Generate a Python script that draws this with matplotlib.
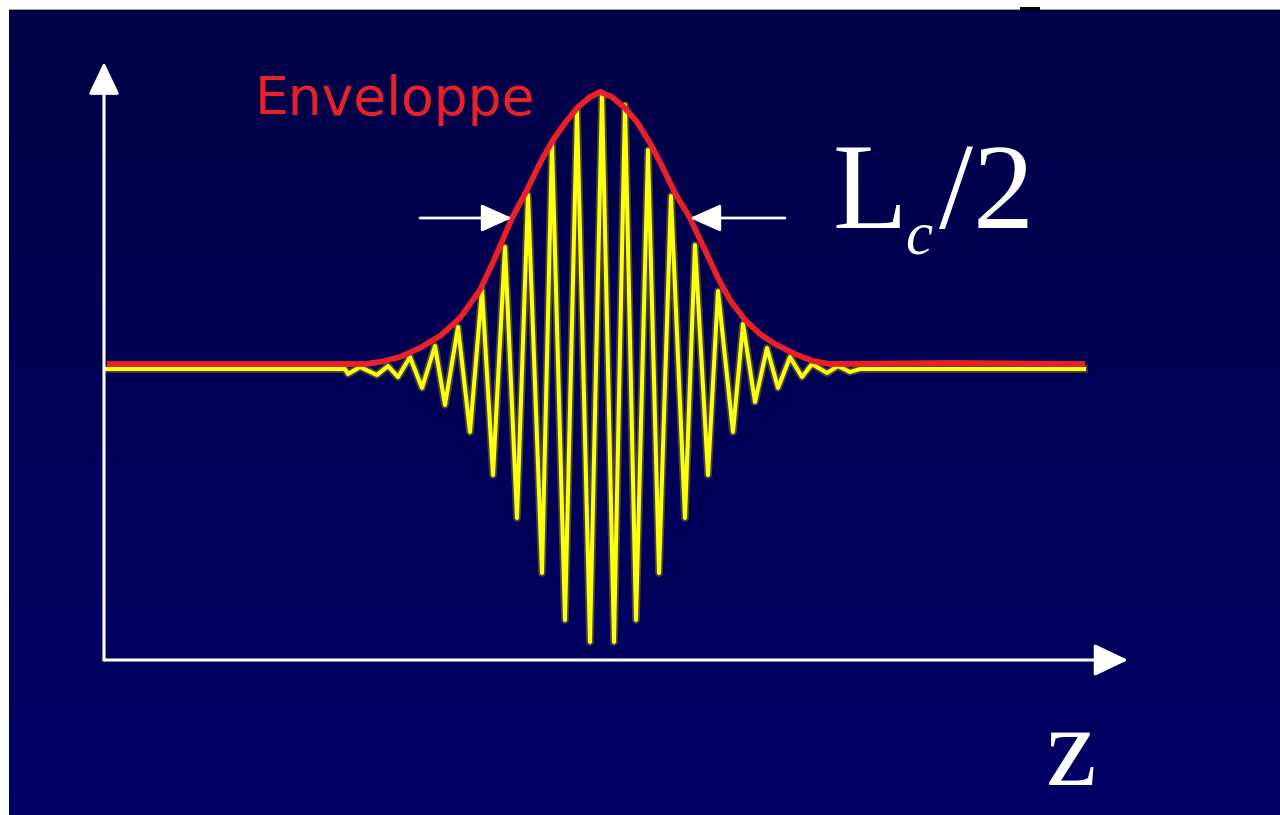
import numpy as np
import matplotlib
matplotlib.use('Agg')
import matplotlib.pyplot as plt
from matplotlib.patches import Rectangle

# Interference signal (yellow): z position and amplitude of each turning point
signal_z = [0.03, 2.41, 2.44, 2.56, 2.73, 2.84, 2.94, 3.06, 3.18, 3.31, 3.41, 3.54, 3.66, 3.78,
            3.89, 4.01, 4.13, 4.24, 4.38, 4.48, 4.61, 4.73, 4.86, 4.98, 5.10, 5.21, 5.32, 5.44,
            5.55, 5.67, 5.81, 5.91, 6.04, 6.14, 6.29, 6.39, 6.51, 6.63, 6.74, 6.86, 6.98, 7.08,
            7.23, 7.34, 7.46, 7.56, 9.80]
signal_amp = [0.00, 0.00, -0.05, 0.02, -0.06, 0.03, -0.08, 0.12, -0.19, 0.23, -0.36, 0.42, -0.63, 0.79,
              -1.06, 1.22, -1.49, 1.74, -2.04, 2.26, -2.51, 2.59, -2.73, 2.76, -2.73, 2.64, -2.51, 2.19,
              -2.04, 1.73, -1.49, 1.24, -1.06, 0.78, -0.63, 0.45, -0.33, 0.21, -0.19, 0.12, -0.08, 0.05,
              -0.04, 0.03, -0.03, 0.00, 0.00]

# Envelope (red)
env_z = [0.03, 2.61, 2.76, 2.96, 3.16, 3.36, 3.56, 3.76, 3.91, 4.08, 4.23, 4.36, 4.49, 4.61,
         4.74, 4.86, 4.96, 5.08, 5.21, 5.33, 5.46, 5.58, 5.71, 5.86, 6.01, 6.14, 6.26, 6.41,
         6.56, 6.71, 6.91, 7.09, 7.26, 8.46, 9.81]
env_amp = [0.05, 0.05, 0.07, 0.12, 0.21, 0.33, 0.51, 0.79, 1.11, 1.51, 1.79, 2.06, 2.29, 2.46,
           2.62, 2.72, 2.77, 2.72, 2.61, 2.47, 2.26, 2.03, 1.76, 1.51, 1.19, 0.91, 0.69, 0.49,
           0.35, 0.25, 0.15, 0.08, 0.05, 0.06, 0.05]

# half coherence length markers
lc_left = 4.08
lc_right = 5.86
lc_level = 1.51

W, H = 1280, 815
fig = plt.figure(figsize=(W / 100, H / 100), dpi=100)
fig.patch.set_facecolor('white')

# navy gradient background
bg = fig.add_axes([9 / W, 0, (W - 9) / W, (H - 9) / H])
grad = np.linspace(0, 1, 256).reshape(-1, 1)
top = np.array([0x00, 0x00, 0x46]) / 255
bot = np.array([0x00, 0x00, 0x66]) / 255
img = top + (bot - top) * grad[:, :, None]
bg.imshow(img, aspect='auto', extent=[0, 1, 0, 1], origin='upper')
bg.set_axis_off()
fig.add_artist(Rectangle((9 / W, (H - 10) / H), (W - 9) / W, 1.5 / H,
                         transform=fig.transFigure, color='#a0a0b0', lw=0))
fig.add_artist(Rectangle((1020 / W, (H - 10) / H), 20 / W, 3 / H,
                         transform=fig.transFigure, color='black', lw=0))

ax = fig.add_axes([0, 0, 1, 1])
ax.set_xlim(-1.04, 11.76)
ax.set_ylim(-4.46, 3.69)
ax.set_axis_off()
ax.patch.set_alpha(0)

# axes arrows
axis_y = -2.91
ax.annotate('', xy=(0, 3.07), xytext=(0, axis_y),
            arrowprops=dict(arrowstyle='-|>,head_length=2.0,head_width=0.95',
                            color='white', lw=2.2, shrinkA=0, shrinkB=0))
ax.annotate('', xy=(10.24, axis_y), xytext=(0, axis_y),
            arrowprops=dict(arrowstyle='-|>,head_length=2.1,head_width=1.0',
                            color='white', lw=2.2, shrinkA=0, shrinkB=0))

# signal with soft glow, then envelope
ax.plot(signal_z, signal_amp, color='#c8c800', lw=5.5, alpha=0.35, solid_joinstyle='round')
ax.plot(signal_z, signal_amp, color='#ffff10', lw=2.9, solid_joinstyle='round')
ax.plot(env_z, env_amp, color='#e8202a', lw=4.2, solid_capstyle='butt',
        solid_joinstyle='round')

# Lc/2 markers
ax.annotate('', xy=(lc_left, lc_level), xytext=(3.16, lc_level),
            arrowprops=dict(arrowstyle='-|>,head_length=1.9,head_width=0.85',
                            color='white', lw=2.0, shrinkA=0, shrinkB=0))
ax.annotate('', xy=(lc_right, lc_level), xytext=(6.81, lc_level),
            arrowprops=dict(arrowstyle='-|>,head_length=1.9,head_width=0.85',
                            color='white', lw=2.0, shrinkA=0, shrinkB=0))

ax.text(1.51, 2.54, 'Enveloppe', color='#e8202a', fontsize=38.5,
        family='DejaVu Sans', ha='left', va='baseline')
ax.text(7.29, 1.41, 'L', color='white', fontsize=88, family='Liberation Serif',
        ha='left', va='baseline')
ax.text(8.01, 1.16, 'c', color='white', fontsize=44, family='Liberation Serif',
        style='italic', ha='left', va='baseline')
ax.text(8.35, 1.41, '/2', color='white', fontsize=88, family='Liberation Serif',
        ha='left', va='baseline')
ax.text(9.42, -4.16, 'z', color='white', fontsize=82, family='Liberation Serif',
        ha='left', va='baseline')

fig.savefig('out.png', dpi=100)
